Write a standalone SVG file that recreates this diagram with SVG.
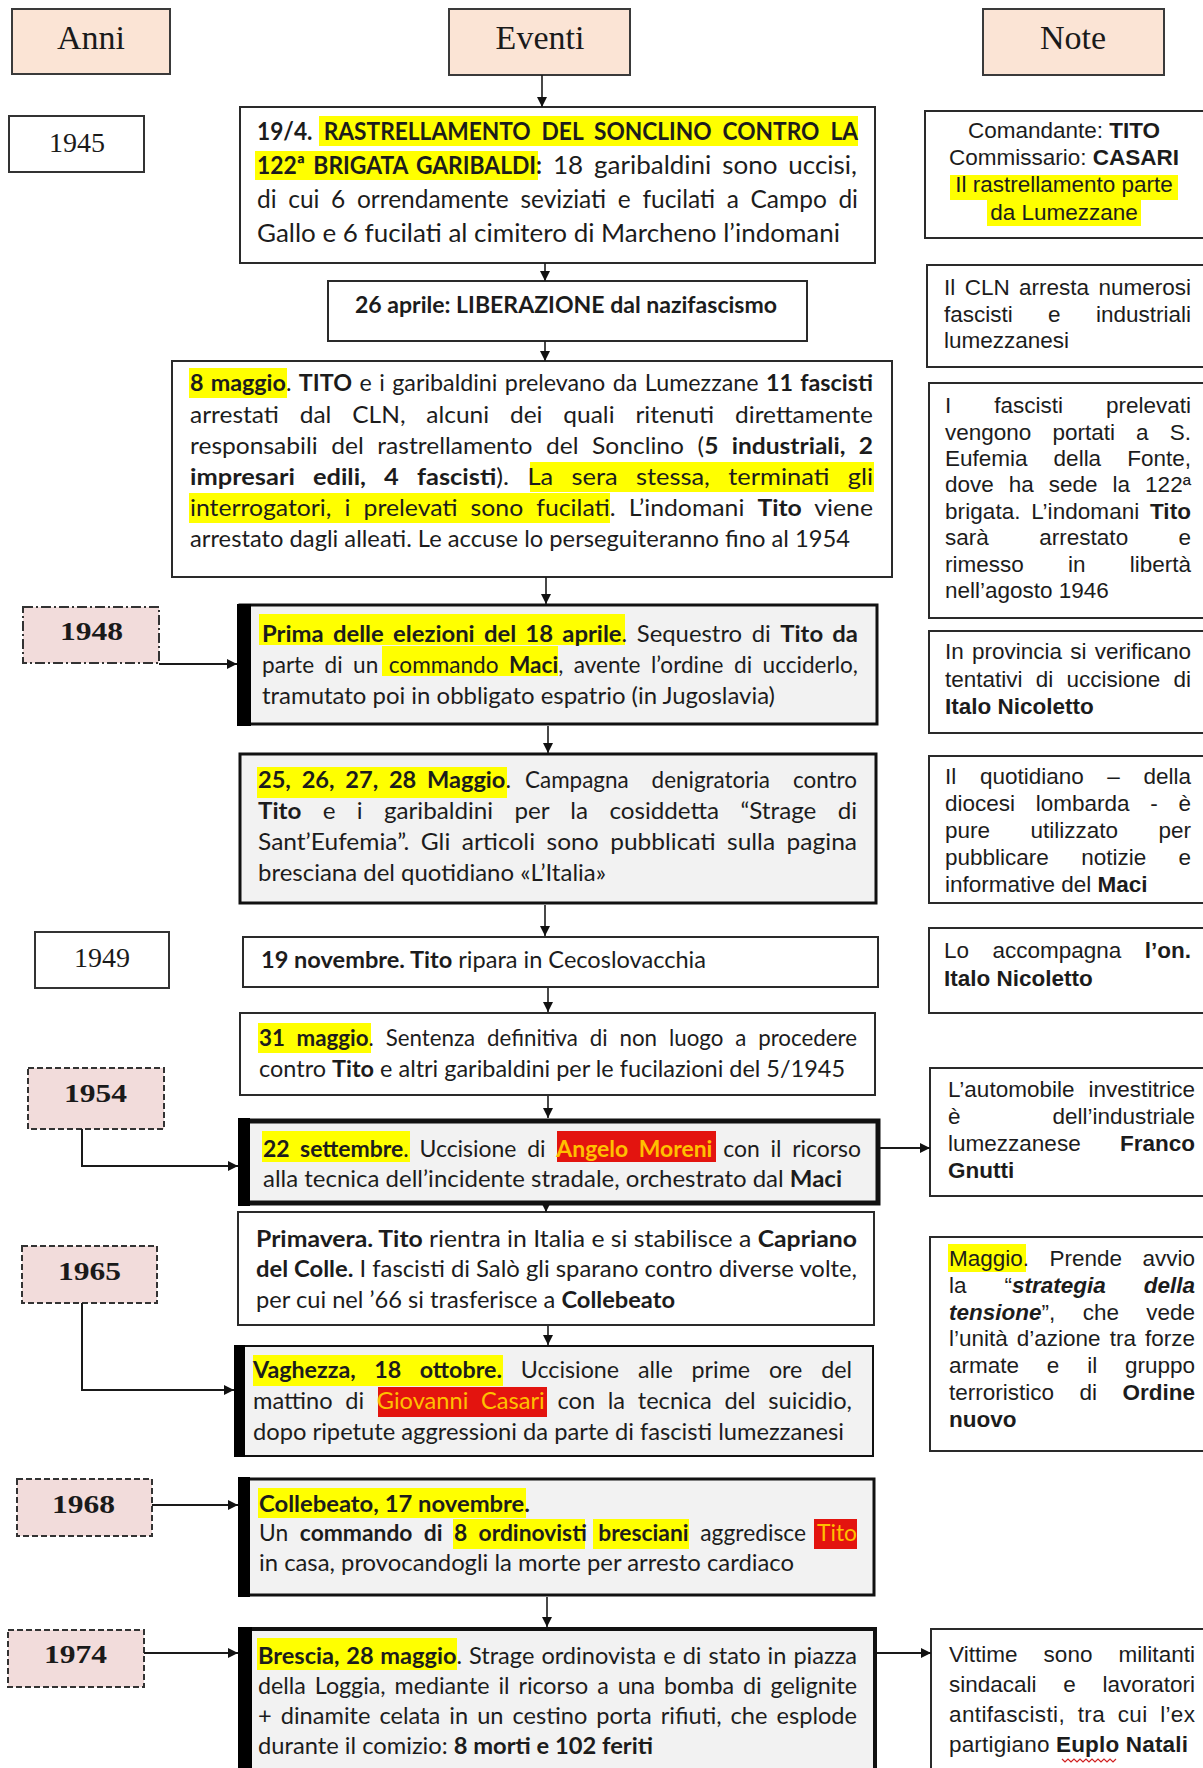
<svg xmlns="http://www.w3.org/2000/svg" width="1203" height="1768" viewBox="0 0 1203 1768">
<defs>
<marker id="ah" viewBox="0 0 10 10" refX="10" refY="5" markerWidth="11" markerHeight="10" markerUnits="userSpaceOnUse" orient="auto"><path d="M0,0 L10,5 L0,10 z" fill="#111"/></marker>
<style>
.hdr{fill:#fbe4d5;stroke:#3a3a3a;stroke-width:2}
.hdrt{font-family:"Liberation Serif","Times New Roman",serif;font-size:34px;fill:#1a1a1a;text-anchor:middle}
.yr{fill:#fff;stroke:#333;stroke-width:2}
.yrp{fill:#f2dcdb;stroke:#333;stroke-width:2;stroke-dasharray:6 3}
.yrdd{fill:#f2dcdb;stroke:#333;stroke-width:2;stroke-dasharray:10 3 2 3}
.yrt{font-family:"Liberation Serif","Times New Roman",serif;font-size:28px;fill:#1a1a1a;text-anchor:middle}
.yrb{font-family:"Liberation Serif","Times New Roman",serif;font-size:26px;font-weight:bold;fill:#1a1a1a}
.box{fill:#fff;stroke:#2a2a2a;stroke-width:2}
.gbox{fill:#f2f2f2;stroke:#111;stroke-width:3}
.bar{fill:#000}
.nbox{fill:#fff;stroke:#2a2a2a;stroke-width:2}
.ev{font-family:Lato,"Liberation Sans",sans-serif;font-size:23.5px;fill:#1c1c1c}
.ev1{font-size:25px}
.nt{font-family:"Liberation Sans",Arial,sans-serif;font-size:22.5px;fill:#1c1c1c}
.b{font-weight:bold}
.bi{font-weight:bold;font-style:italic}
.hl{fill:#ffff00}
.rh{fill:#e3140f}
.rt{fill:#ffc000}
.conn path{fill:none;stroke:#1a1a1a;stroke-width:1.6}
.wavy{fill:none;stroke:#d02020;stroke-width:1.2}
</style>
</defs>
<rect width="1203" height="1768" fill="#fff"/>

<g id="header-anni"><rect class="hdr" x="12" y="9" width="158" height="65"/><text class="hdrt" x="91" y="49">Anni</text></g>
<g id="header-eventi"><rect class="hdr" x="449" y="9" width="181" height="66"/><text class="hdrt" x="540" y="49">Eventi</text></g>
<g id="header-note"><rect class="hdr" x="983" y="9" width="181" height="66"/><text class="hdrt" x="1073" y="49">Note</text></g>

<g id="year-1945"><rect class="yr" x="9" y="116" width="135" height="56"/><text class="yrt" x="77" y="152">1945</text></g>
<g id="year-1948"><rect class="yrdd" x="23" y="607" width="136" height="56"/><text class="yrb" x="60" y="640" textLength="63" lengthAdjust="spacingAndGlyphs">1948</text></g>
<g id="year-1949"><rect class="yr" x="35" y="932" width="134" height="56"/><text class="yrt" x="102" y="967">1949</text></g>
<g id="year-1954"><rect class="yrp" x="28" y="1068" width="136" height="61"/><text class="yrb" x="64" y="1102" textLength="63" lengthAdjust="spacingAndGlyphs">1954</text></g>
<g id="year-1965"><rect class="yrp" x="22" y="1246" width="135" height="57"/><text class="yrb" x="58" y="1280" textLength="63" lengthAdjust="spacingAndGlyphs">1965</text></g>
<g id="year-1968"><rect class="yrp" x="17" y="1479" width="135" height="57"/><text class="yrb" x="52" y="1513" textLength="63" lengthAdjust="spacingAndGlyphs">1968</text></g>
<g id="year-1974"><rect class="yrp" x="8" y="1630" width="136" height="57"/><text class="yrb" x="44" y="1663" textLength="63" lengthAdjust="spacingAndGlyphs">1974</text></g>

<g id="ev-1945-rastrellamento">
<rect class="box" x="240" y="107" width="635" height="156"/>
<rect class="hl" x="319" y="116" width="539" height="30"/>
<rect class="hl" x="255" y="151" width="283" height="29"/>
<text class="ev ev1" x="257" y="140" textLength="601" lengthAdjust="spacingAndGlyphs" style="word-spacing:6px"><tspan class="b">19/4.</tspan> <tspan class="b">RASTRELLAMENTO DEL SONCLINO CONTRO LA</tspan></text>
<text class="ev ev1 b" x="257" y="174" textLength="285" lengthAdjust="spacingAndGlyphs" style="word-spacing:3px">122ª BRIGATA GARIBALDI:</text>
<text class="ev ev1" x="553" y="174" textLength="304" lengthAdjust="spacingAndGlyphs" style="word-spacing:4px">18 garibaldini sono uccisi,</text>
<text class="ev ev1" x="257" y="208" textLength="601" lengthAdjust="spacingAndGlyphs" style="word-spacing:5.5px">di cui 6 orrendamente seviziati e fucilati a Campo di</text>
<text class="ev ev1" x="257" y="242" textLength="583" lengthAdjust="spacingAndGlyphs">Gallo e 6 fucilati al cimitero di Marcheno l’indomani</text>
</g>

<g id="ev-liberazione">
<rect class="box" x="328" y="281" width="479" height="60"/>
<text class="ev b" x="355" y="313" textLength="422" lengthAdjust="spacingAndGlyphs">26 aprile: LIBERAZIONE dal nazifascismo</text>
</g>

<g id="ev-8-maggio">
<rect class="box" x="172" y="361" width="720" height="216"/>
<rect class="hl" x="189" y="368" width="98" height="30"/>
<rect class="hl" x="530" y="462" width="344" height="30"/>
<rect class="hl" x="189" y="493" width="421" height="30"/>
<text class="ev" x="190" y="391" textLength="683" lengthAdjust="spacingAndGlyphs" style="word-spacing:1.5px"><tspan class="b">8 maggio</tspan>. <tspan class="b">TITO</tspan> e i garibaldini prelevano da Lumezzane <tspan class="b">11 fascisti</tspan></text>
<text class="ev" x="190" y="423" textLength="683" lengthAdjust="spacingAndGlyphs" style="word-spacing:14px">arrestati dal CLN, alcuni dei quali ritenuti direttamente</text>
<text class="ev" x="190" y="454" textLength="683" lengthAdjust="spacingAndGlyphs" style="word-spacing:7px">responsabili del rastrellamento del Sonclino (<tspan class="b">5 industriali, 2</tspan></text>
<text class="ev" x="190" y="485" textLength="683" lengthAdjust="spacingAndGlyphs" style="word-spacing:11px"><tspan class="b">impresari edili, 4 fascisti</tspan>). La sera stessa, terminati gli</text>
<text class="ev" x="190" y="516" textLength="683" lengthAdjust="spacingAndGlyphs" style="word-spacing:6.4px">interrogatori, i prelevati sono fucilati. L’indomani <tspan class="b">Tito</tspan> viene</text>
<text class="ev" x="190" y="547" textLength="660" lengthAdjust="spacingAndGlyphs">arrestato dagli alleati. Le accuse lo perseguiteranno fino al 1954</text>
</g>

<g id="ev-1948-sequestro">
<rect class="gbox" x="240" y="605" width="637" height="119"/>
<rect class="bar" x="237" y="604" width="14" height="122"/>
<rect class="hl" x="259" y="614" width="366" height="31"/>
<rect class="hl" x="382" y="646" width="176" height="30"/>
<text class="ev" x="262" y="642" textLength="596" lengthAdjust="spacingAndGlyphs" style="word-spacing:3.4px"><tspan class="b">Prima delle elezioni del 18 aprile</tspan>. Sequestro di <tspan class="b">Tito da</tspan></text>
<text class="ev" x="262" y="673" textLength="596" lengthAdjust="spacingAndGlyphs" style="word-spacing:4.9px">parte di un commando <tspan class="b">Maci</tspan>, avente l’ordine di ucciderlo,</text>
<text class="ev" x="262" y="704" textLength="513" lengthAdjust="spacingAndGlyphs">tramutato poi in obbligato espatrio (in Jugoslavia)</text>
</g>

<g id="ev-1948-campagna">
<rect class="gbox" x="240" y="754" width="636" height="149"/>
<rect class="hl" x="257" y="767" width="250" height="31"/>
<text class="ev" x="258" y="788" textLength="253" lengthAdjust="spacingAndGlyphs" style="word-spacing:5px"><tspan class="b">25, 26, 27, 28 Maggio</tspan>.</text>
<text class="ev" x="525" y="788" textLength="332" lengthAdjust="spacingAndGlyphs" style="word-spacing:18px">Campagna denigratoria contro</text>
<text class="ev" x="258" y="819" textLength="599" lengthAdjust="spacingAndGlyphs" style="word-spacing:14.7px"><tspan class="b">Tito</tspan> e i garibaldini per la cosiddetta “Strage di</text>
<text class="ev" x="258" y="850" textLength="599" lengthAdjust="spacingAndGlyphs" style="word-spacing:5px">Sant’Eufemia”. Gli articoli sono pubblicati sulla pagina</text>
<text class="ev" x="258" y="881" textLength="348" lengthAdjust="spacingAndGlyphs">bresciana del quotidiano «L’Italia»</text>
</g>

<g id="ev-1949">
<rect class="box" x="243" y="937" width="635" height="50"/>
<text class="ev" x="261" y="968" textLength="445" lengthAdjust="spacingAndGlyphs"><tspan class="b">19 novembre. Tito</tspan> ripara in Cecoslovacchia</text>
</g>

<g id="ev-sentenza">
<rect class="box" x="240" y="1013" width="635" height="82"/>
<rect class="hl" x="258" y="1023" width="113" height="30"/>
<text class="ev" x="259" y="1046" textLength="598" lengthAdjust="spacingAndGlyphs" style="word-spacing:6.5px"><tspan class="b">31 maggio</tspan>. Sentenza definitiva di non luogo a procedere</text>
<text class="ev" x="259" y="1077" textLength="586" lengthAdjust="spacingAndGlyphs">contro <tspan class="b">Tito</tspan> e altri garibaldini per le fucilazioni del 5/1945</text>
</g>

<g id="ev-1954">
<rect class="gbox" x="241" y="1121" width="637" height="82" style="stroke-width:5"/>
<rect class="bar" x="238" y="1118" width="12" height="88"/>
<rect class="hl" x="262" y="1131" width="148" height="31"/>
<rect class="rh" x="557" y="1131" width="159" height="31"/>
<text class="ev" x="263" y="1157" textLength="598" lengthAdjust="spacingAndGlyphs" style="word-spacing:5px"><tspan class="b">22 settembre</tspan>. Uccisione di <tspan class="b rt">Angelo Moreni</tspan> con il ricorso</text>
<text class="ev" x="263" y="1187" textLength="579" lengthAdjust="spacingAndGlyphs">alla tecnica dell’incidente stradale, orchestrato dal <tspan class="b">Maci</tspan></text>
</g>

<g id="ev-primavera">
<rect class="box" x="238" y="1212" width="636" height="113"/>
<text class="ev" x="256" y="1247" textLength="601" lengthAdjust="spacingAndGlyphs"><tspan class="b">Primavera. Tito</tspan> rientra in Italia e si stabilisce a <tspan class="b">Capriano</tspan></text>
<text class="ev" x="256" y="1277" textLength="601" lengthAdjust="spacingAndGlyphs"><tspan class="b">del Colle.</tspan> I fascisti di Salò gli sparano contro diverse volte,</text>
<text class="ev" x="256" y="1308" textLength="419" lengthAdjust="spacingAndGlyphs">per cui nel ’66 si trasferisce a <tspan class="b">Collebeato</tspan></text>
</g>

<g id="ev-1965">
<rect class="gbox" x="236" y="1346" width="637" height="110" style="stroke-width:2"/>
<rect class="bar" x="234" y="1345" width="11" height="112"/>
<rect class="hl" x="253" y="1355" width="250" height="31"/>
<rect class="rh" x="378" y="1387" width="169" height="30"/>
<text class="ev" x="253" y="1378" textLength="599" lengthAdjust="spacingAndGlyphs" style="word-spacing:13px"><tspan class="b">Vaghezza, 18 ottobre.</tspan> Uccisione alle prime ore del</text>
<text class="ev" x="253" y="1409" textLength="599" lengthAdjust="spacingAndGlyphs" style="word-spacing:6.6px">mattino di <tspan class="rt">Giovanni Casari</tspan> con la tecnica del suicidio,</text>
<text class="ev" x="253" y="1440" textLength="591" lengthAdjust="spacingAndGlyphs">dopo ripetute aggressioni da parte di fascisti lumezzanesi</text>
</g>

<g id="ev-1968">
<rect class="gbox" x="240" y="1479" width="634" height="116"/>
<rect class="bar" x="238" y="1477" width="12" height="120"/>
<rect class="hl" x="258" y="1488" width="268" height="30"/>
<rect class="hl" x="453" y="1519" width="132" height="30"/>
<rect class="hl" x="593" y="1519" width="96" height="30"/>
<rect class="rh" x="814" y="1519" width="43" height="30"/>
<text class="ev" x="259" y="1512" textLength="271" lengthAdjust="spacingAndGlyphs"><tspan class="b">Collebeato, 17 novembre.</tspan></text>
<text class="ev" x="259" y="1541" textLength="598" lengthAdjust="spacingAndGlyphs" style="word-spacing:6px">Un <tspan class="b">commando di 8 ordinovisti bresciani</tspan> aggredisce <tspan class="rt">Tito</tspan></text>
<text class="ev" x="259" y="1571" textLength="535" lengthAdjust="spacingAndGlyphs">in casa, provocandogli la morte per arresto cardiaco</text>
</g>

<g id="ev-1974">
<rect class="gbox" x="240" y="1629" width="635" height="160" style="stroke-width:4"/>
<rect class="bar" x="238" y="1627" width="14" height="160"/>
<rect class="hl" x="257" y="1638" width="200" height="32"/>
<text class="ev" x="258" y="1664" textLength="599" lengthAdjust="spacingAndGlyphs" style="word-spacing:1px"><tspan class="b">Brescia, 28 maggio</tspan>. Strage ordinovista e di stato in piazza</text>
<text class="ev" x="258" y="1694" textLength="599" lengthAdjust="spacingAndGlyphs" style="word-spacing:3px">della Loggia, mediante il ricorso a una bomba di gelignite</text>
<text class="ev" x="258" y="1724" textLength="599" lengthAdjust="spacingAndGlyphs" style="word-spacing:3px">+ dinamite celata in un cestino porta rifiuti, che esplode</text>
<text class="ev" x="258" y="1754" textLength="395" lengthAdjust="spacingAndGlyphs">durante il comizio: <tspan class="b">8 morti e 102 feriti</tspan></text>
</g>

<g id="note-comandante">
<rect class="nbox" x="925" y="111" width="290" height="127"/>
<rect class="hl" x="950" y="175" width="228" height="25"/>
<rect class="hl" x="987" y="200" width="154" height="26"/>
<text class="nt" x="1064" y="138" text-anchor="middle">Comandante: <tspan class="b">TITO</tspan></text>
<text class="nt" x="1064" y="165" text-anchor="middle">Commissario: <tspan class="b">CASARI</tspan></text>
<text class="nt" x="1064" y="192" text-anchor="middle">Il rastrellamento parte</text>
<text class="nt" x="1064" y="220" text-anchor="middle">da Lumezzane</text>
</g>

<g id="note-cln">
<rect class="nbox" x="927" y="265" width="290" height="102"/>
<text class="nt" x="944" y="295" textLength="247" style="word-spacing:3.1px">Il CLN arresta numerosi</text>
<text class="nt" x="944" y="322" textLength="247" style="word-spacing:29px">fascisti e industriali</text>
<text class="nt" x="944" y="348">lumezzanesi</text>
</g>

<g id="note-fascisti">
<rect class="nbox" x="929" y="383" width="290" height="235"/>
<text class="nt" x="945" y="413" textLength="246" style="word-spacing:36.7px">I fascisti prelevati</text>
<text class="nt" x="945" y="440" textLength="246" style="word-spacing:14.9px">vengono portati a S.</text>
<text class="nt" x="945" y="466" textLength="246" style="word-spacing:19.8px">Eufemia della Fonte,</text>
<text class="nt" x="945" y="492" textLength="246" style="word-spacing:8.7px">dove ha sede la 122ª</text>
<text class="nt" x="945" y="519" textLength="246" style="word-spacing:4.2px">brigata. L’indomani <tspan class="b">Tito</tspan></text>
<text class="nt" x="945" y="545" textLength="246" style="word-spacing:44px">sarà arrestato e</text>
<text class="nt" x="945" y="572" textLength="246" style="word-spacing:38px">rimesso in libertà</text>
<text class="nt" x="945" y="598">nell’agosto 1946</text>
</g>

<g id="note-provincia">
<rect class="nbox" x="929" y="631" width="290" height="102"/>
<text class="nt" x="945" y="659" textLength="246" style="word-spacing:2px">In provincia si verificano</text>
<text class="nt" x="945" y="687" textLength="246" style="word-spacing:7px">tentativi di uccisione di</text>
<text class="nt b" x="945" y="714">Italo Nicoletto</text>
</g>

<g id="note-quotidiano">
<rect class="nbox" x="929" y="756" width="290" height="147"/>
<text class="nt" x="945" y="784" textLength="246" style="word-spacing:17.4px">Il quotidiano – della</text>
<text class="nt" x="945" y="811" textLength="246" style="word-spacing:14.5px">diocesi lombarda - è</text>
<text class="nt" x="945" y="838" textLength="246" style="word-spacing:34px">pure utilizzato per</text>
<text class="nt" x="945" y="865" textLength="246" style="word-spacing:26px">pubblicare notizie e</text>
<text class="nt" x="945" y="892">informative del <tspan class="b">Maci</tspan></text>
</g>

<g id="note-accompagna">
<rect class="nbox" x="929" y="928" width="290" height="85"/>
<text class="nt" x="944" y="958" textLength="247" style="word-spacing:17.2px">Lo accompagna <tspan class="b">l’on.</tspan></text>
<text class="nt b" x="944" y="986">Italo Nicoletto</text>
</g>

<g id="note-automobile">
<rect class="nbox" x="930" y="1068" width="290" height="128"/>
<text class="nt" x="948" y="1097" textLength="247" style="word-spacing:7.6px">L’automobile investitrice</text>
<text class="nt" x="948" y="1124" textLength="247" style="word-spacing:85.7px">è dell’industriale</text>
<text class="nt" x="948" y="1151" textLength="247" style="word-spacing:33px">lumezzanese <tspan class="b">Franco</tspan></text>
<text class="nt b" x="948" y="1178">Gnutti</text>
</g>

<g id="note-strategia">
<rect class="nbox" x="930" y="1237" width="290" height="214"/>
<rect class="hl" x="948" y="1244" width="78" height="28"/>
<text class="nt" x="949" y="1266" textLength="246" style="word-spacing:14.2px">Maggio. Prende avvio</text>
<text class="nt" x="949" y="1293" textLength="246" style="word-spacing:31.7px">la “<tspan class="bi">strategia della</tspan></text>
<text class="nt" x="949" y="1320" textLength="246" style="word-spacing:21px"><tspan class="bi">tensione</tspan>”, che vede</text>
<text class="nt" x="949" y="1346" textLength="246" style="word-spacing:2.8px">l’unità d’azione tra forze</text>
<text class="nt" x="949" y="1373" textLength="246" style="word-spacing:21.6px">armate e il gruppo</text>
<text class="nt" x="949" y="1400" textLength="246" style="word-spacing:19.2px">terroristico di <tspan class="b">Ordine</tspan></text>
<text class="nt b" x="949" y="1427">nuovo</text>
</g>

<g id="note-vittime">
<rect class="nbox" x="931" y="1629" width="290" height="160"/>
<text class="nt" x="949" y="1662" textLength="246" style="word-spacing:19.8px">Vittime sono militanti</text>
<text class="nt" x="949" y="1692" textLength="246" style="word-spacing:20.5px">sindacali e lavoratori</text>
<text class="nt" x="949" y="1722" textLength="246" style="word-spacing:6px">antifascisti, tra cui l’ex</text>
<text class="nt" x="949" y="1752" textLength="239">partigiano <tspan class="b">Euplo Natali</tspan></text>
<path class="wavy" d="M1062 1759 l3 3 l3 -3 l3 3 l3 -3 l3 3 l3 -3 l3 3 l3 -3 l3 3 l3 -3 l3 3 l3 -3 l3 3 l3 -3 l3 3 l3 -3 l3 3 l3 -3"/>
</g>

<g id="connectors" class="conn">
<path d="M542 75 V107" marker-end="url(#ah)"/>
<path d="M545 263 V281" marker-end="url(#ah)"/>
<path d="M545 341 V361" marker-end="url(#ah)"/>
<path d="M546 577 V604" marker-end="url(#ah)"/>
<path d="M548 726 V753" marker-end="url(#ah)"/>
<path d="M545 905 V936" marker-end="url(#ah)"/>
<path d="M548 988 V1012" marker-end="url(#ah)"/>
<path d="M548 1096 V1118" marker-end="url(#ah)"/>
<path d="M546 1205 V1212" marker-end="url(#ah)"/>
<path d="M548 1326 V1345" marker-end="url(#ah)"/>
<path d="M547 1597 V1627" marker-end="url(#ah)"/>
<path d="M159 664 H237" marker-end="url(#ah)" style="stroke-width:2"/>
<path d="M82 1129 V1166 H238" marker-end="url(#ah)" style="stroke-width:2"/>
<path d="M82 1303 V1390 H234" marker-end="url(#ah)" style="stroke-width:2"/>
<path d="M152 1505 H238" marker-end="url(#ah)" style="stroke-width:2"/>
<path d="M144 1653 H238" marker-end="url(#ah)" style="stroke-width:2"/>
<path d="M880 1148 H930" marker-end="url(#ah)" style="stroke-width:2"/>
<path d="M877 1653 H931" marker-end="url(#ah)" style="stroke-width:2"/>
</g>
</svg>
